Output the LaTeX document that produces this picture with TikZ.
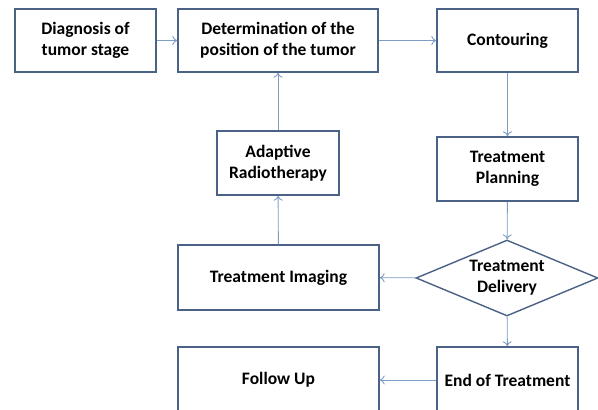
\documentclass[tikz,border=0pt]{standalone}
\usepackage{fontspec}
\setmainfont{Carlito}
\usetikzlibrary{shapes.geometric,arrows.meta}
\definecolor{boxc}{HTML}{4A6285}
\definecolor{linec}{HTML}{7F9DC3}
\begin{document}
\begin{tikzpicture}[x=1pt,y=-1pt,
  box/.style={draw=boxc,line width=1.4pt,fill=white,align=center,inner sep=0pt,font=\fontsize{17.5}{21}\selectfont\bfseries},
  dia/.style={draw=boxc,line width=1.4pt,fill=white,diamond,align=center,inner sep=0pt,aspect=2.4,font=\fontsize{17.5}{21}\selectfont\bfseries},
  conn/.style={draw=linec,line width=0.9pt,-{To[length=5pt,width=9pt]}}]
\useasboundingbox (0,0) rectangle (598,410);
\clip (0,0) rectangle (598,410);
\node[box,minimum width=141pt,minimum height=63pt] (diag) at (85.5,40.5) {Diagnosis of\\tumor stage};
\node[box,minimum width=200pt,minimum height=63pt] (det) at (278,40.5) {Determination of the\\position of the tumor};
\node[box,minimum width=141pt,minimum height=63pt] (cont) at (507.5,40.5) {Contouring};
\node[box,minimum width=141pt,minimum height=64pt] (plan) at (507.5,169) {Treatment\\Planning};
\node[box,minimum width=122pt,minimum height=64pt] (adapt) at (278,163) {Adaptive\\Radiotherapy};
\node[box,minimum width=201pt,minimum height=65pt] (img) at (278.5,277.5) {Treatment Imaging};
\node[dia,minimum width=182pt,minimum height=76pt] (del) at (507,278) {Treatment\\Delivery};
\node[box,minimum width=201pt,minimum height=66pt] (fol) at (278.5,380) {Follow Up};
\node[box,minimum width=141pt,minimum height=66pt] (end) at (507.5,380) {End of Treatment};
\draw[conn] (diag) -- (det);
\draw[conn] (det) -- (cont);
\draw[conn] (cont) -- (plan);
\draw[conn] (plan) -- (del);
\draw[conn] (del) -- (img);
\draw[conn] (img) -- (adapt);
\draw[conn] (adapt) -- (det);
\draw[conn] (del) -- (end);
\draw[conn] (end) -- (fol);
\end{tikzpicture}
\end{document}
